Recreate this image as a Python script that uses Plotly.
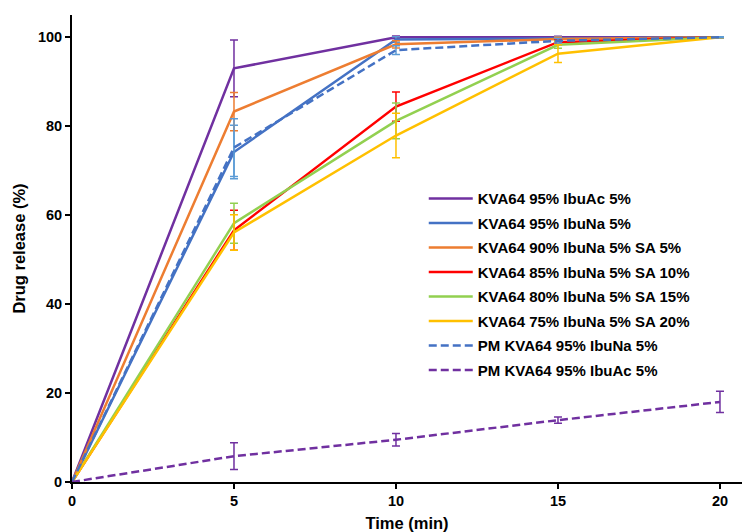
import plotly.graph_objects as go

time = [0, 5, 10, 15, 20]

names = [
    "KVA64 95% IbuAc 5%",
    "KVA64 95% IbuNa 5%",
    "KVA64 90% IbuNa 5% SA 5%",
    "KVA64 85% IbuNa 5% SA 10%",
    "KVA64 80% IbuNa 5% SA 15%",
    "KVA64 75% IbuNa 5% SA 20%",
    "PM KVA64 95% IbuNa 5%",
    "PM KVA64 95% IbuAc 5%",
]

ibuac = [0, 93.0, 100.0, 100.0, 100.0]
ibuac_err = [0, 6.4, 0.3, 0.2, 0.1]
ibuna = [0, 74.2, 99.5, 99.8, 100.0]
ibuna_err = [0, 6.0, 0.6, 0.3, 0.1]
sa5 = [0, 83.3, 98.4, 99.6, 100.0]
sa5_err = [0, 4.3, 0.8, 0.4, 0.1]
sa10 = [0, 56.6, 84.4, 98.9, 100.0]
sa10_err = [0, 4.5, 3.3, 0.6, 0.1]
sa15 = [0, 58.2, 81.2, 98.3, 100.0]
sa15_err = [0, 4.5, 4.0, 0.8, 0.1]
sa20 = [0, 56.1, 77.9, 96.3, 100.0]
sa20_err = [0, 4.0, 5.0, 2.0, 0.1]
pm_ibuna = [0, 75.2, 97.1, 99.2, 100.0]
pm_ibuna_err = [0, 6.5, 1.0, 0.5, 0.1]
pm_ibuac = [0, 5.8, 9.5, 13.9, 18.0]
pm_ibuac_err = [0, 3.0, 1.4, 0.7, 2.4]

series = [ibuac, ibuna, sa5, sa10, sa15, sa20, pm_ibuna, pm_ibuac]
errors = [ibuac_err, ibuna_err, sa5_err, sa10_err, sa15_err, sa20_err, pm_ibuna_err, pm_ibuac_err]
colors = ["#7030A0", "#4472C4", "#ED7D31", "#FF0000", "#92D050", "#FFC000", "#4472C4", "#7030A0"]
err_colors = ["#7030A0", "#5B9BD5", "#ED7D31", "#FF0000", "#92D050", "#FFC000", "#5B9BD5", "#7030A0"]
dashes = ["solid"] * 6 + ["8px,4px", "8px,4px"]

fig = go.Figure()
for i, (n, y, e, c, ec, d) in enumerate(zip(names, series, errors, colors, err_colors, dashes)):
    fig.add_trace(go.Scatter(
        x=time, y=y, name=n, mode="lines", legendgroup=f"g{i}",
        line=dict(color=c, width=2.5, dash=d),
        error_y=dict(type="data", array=e, visible=True, color=ec, thickness=1.5, width=4),
    ))

font_family = "Liberation Sans, Arial, sans-serif"
fig.update_layout(
    width=742, height=532,
    margin=dict(l=72, r=0, t=15, b=50),
    plot_bgcolor="white", paper_bgcolor="white",
    font=dict(family=font_family, color="black", size=14),
    legend=dict(
        x=0.525, y=0.642, xanchor="left", yanchor="top",
        bgcolor="rgba(0,0,0,0)",
        font=dict(size=15, family=font_family, color="black", weight="bold"),
        tracegroupgap=2, itemwidth=44,
    ),
    xaxis=dict(
        range=[0, 20.68], tickvals=[0, 5, 10, 15, 20],
        showgrid=False, zeroline=False,
        showline=True, linecolor="black", linewidth=2,
        ticks="outside", ticklen=5, tickwidth=1.5, tickcolor="black",
        tickfont=dict(size=14.5, weight="bold"),
        title=dict(text="Time (min)", font=dict(size=16.5, weight="bold"), standoff=12),
    ),
    yaxis=dict(
        range=[0, 105], tickvals=[0, 20, 40, 60, 80, 100],
        showgrid=False, zeroline=False,
        showline=True, linecolor="black", linewidth=2,
        ticks="outside", ticklen=5, tickwidth=1.5, tickcolor="black",
        tickfont=dict(size=14.5, weight="bold"),
        title=dict(text="Drug release (%)", font=dict(size=16.5, weight="bold"), standoff=8),
    ),
)

fig.write_html("out.html")
